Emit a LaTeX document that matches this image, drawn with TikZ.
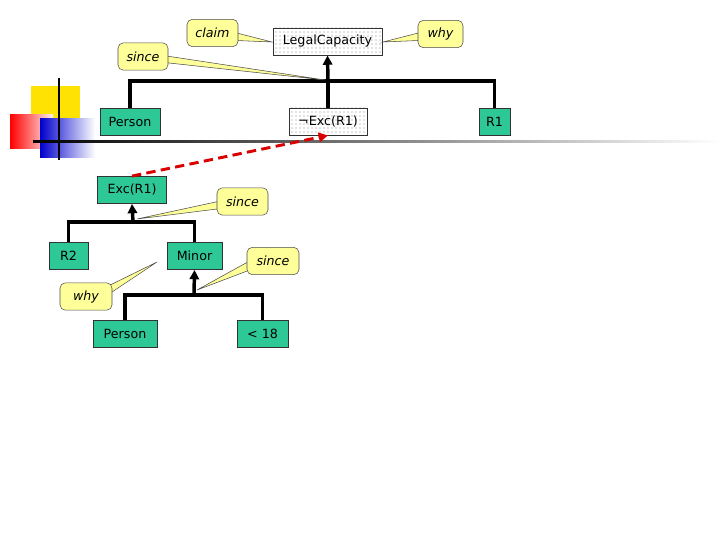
\documentclass[tikz,border=0pt]{standalone}
\usepackage{fontspec}
\setmainfont{DejaVu Sans}
\usetikzlibrary{patterns,arrows.meta}
\definecolor{tgreen}{HTML}{2EC896}
\definecolor{cyel}{HTML}{FFFF99}
\begin{document}
\begin{tikzpicture}[x=0.75pt,y=-0.75pt,font=\fontsize{9.5}{11}\selectfont,
 gbox/.style={draw=black!80,fill=tgreen,inner sep=0pt,minimum height=20.5pt},
 dbox/.style={draw=black!80,pattern=dots,pattern color=black!50,inner sep=0pt,minimum height=20.5pt},
 cbox/.style={draw=black!70,fill=cyel,rounded corners=4pt,inner sep=0pt,minimum height=20.5pt,font=\fontsize{9.5}{11}\selectfont\itshape},
 bar/.style={line width=2.6pt},
 ptr/.style={draw=black!70,fill=cyel}]
\useasboundingbox (0,0) rectangle (720,540);
% decoration
\fill[yellow!85!orange] (31,86) rectangle (80,120);
\shade[left color=red,right color=red!5] (10,114) rectangle (53,148);
\shade[left color=blue!80!black,right color=white] (40,118) rectangle (95,157);
\draw[line width=1.8pt] (59,78) -- (59,160);
\shade[left color=black,right color=white] (33,140) rectangle (720,142.5);
% boxes
\node[dbox,minimum width=81.75pt] (lc) at (327.5,41.5) {LegalCapacity};
\node[gbox,minimum width=45pt] (p1) at (130,121.5) {Person};
\node[dbox,minimum width=58.5pt] (ne) at (328,121.5) {¬Exc(R1)};
\node[gbox,minimum width=23.25pt] (r1) at (494.5,121.5) {R1};
\node[gbox,minimum width=51.75pt] (ex) at (132,190) {Exc(R1)};
\node[gbox,minimum width=29.25pt] (r2) at (68.5,256) {R2};
\node[gbox,minimum width=41.25pt] (mi) at (194.5,256) {Minor};
\node[gbox,minimum width=48pt] (p2) at (125,334) {Person};
\node[gbox,minimum width=38.25pt] (lt) at (262.5,334) {< 18};
% trees
\coordinate (j1) at (328,81);
\draw[bar] (p1.north) |- (j1) -| (r1.north);
\draw[bar] (ne.north) -- (j1);
\draw[bar,-{Triangle[length=7pt,width=7pt]}] (j1) -- (lc.south);
\coordinate (j2) at (133,222);
\draw[bar] (r2.north) |- (j2) -| (mi.north);
\draw[bar,-{Triangle[length=7pt,width=7pt]}] (j2) -- (ex.south);
\coordinate (j3) at (194,295);
\draw[bar] (p2.north) |- (j3) -| (lt.north);
\draw[bar,-{Triangle[length=7pt,width=7pt]}] (j3) -- (mi.south);
% dashed
\draw[red!85!black,line width=2.2pt,dash pattern=on 7pt off 4pt,-{Triangle[length=7pt,width=7pt]}] (ex.north) -- (ne.south);
% callouts
\coordinate (t1) at (272,42);
\draw[ptr] (225,30) -- (t1) -- (225,40) -- cycle;
\node[cbox,minimum width=38.25pt] (cl) at (212.5,33) {claim};
\coordinate (t2) at (383,42);
\draw[ptr] (430,30) -- (t2) -- (430,40) -- cycle;
\node[cbox,minimum width=33.75pt] (w1) at (440.5,34) {why};
\coordinate (t3) at (325,80);
\draw[ptr] (160,55) -- (t3) -- (160,62) -- cycle;
\node[cbox,minimum width=37.5pt] (s1) at (143,56.5) {since};
\coordinate (t4) at (137,219);
\draw[ptr] (225,200) -- (t4) -- (225,208) -- cycle;
\node[cbox,minimum width=38.25pt] (s2) at (242.5,201.5) {since};
\coordinate (t5) at (197,290);
\draw[ptr] (255,258) -- (t5) -- (255,268) -- cycle;
\node[cbox,minimum width=39pt] (s3) at (273,261) {since};
\coordinate (t6) at (157,262);
\draw[ptr] (100,290) -- (t6) -- (100,300) -- cycle;
\node[cbox,minimum width=39pt] (w2) at (86,296.5) {why};
\end{tikzpicture}
\end{document}
